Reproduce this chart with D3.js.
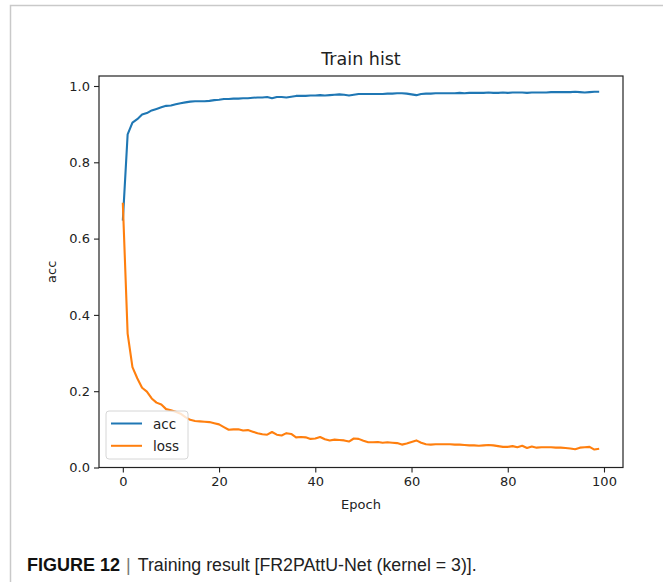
<!DOCTYPE html>
<html>
<head>
<meta charset="utf-8">
<script src="https://cdn.jsdelivr.net/npm/d3@7"></script>
<style>
  html, body { margin: 0; padding: 0; background: #fff; }
  svg { display: block; }
</style>
</head>
<body>
<svg id="chart" width="663" height="582"></svg>
<script>
const title = "Train hist";
const xLabel = "Epoch";
const yLabel = "acc";
const seriesNames = ["acc", "loss"];
const seriesColors = ["#1f77b4", "#ff7f0e"];
const xTicks = [0, 20, 40, 60, 80, 100];
const yTicks = [0.0, 0.2, 0.4, 0.6, 0.8, 1.0];
const captionBold = "FIGURE 12";
const captionText = "Training result [FR2PAttU-Net (kernel = 3)].";

const acc = [
  0.647, 0.873, 0.904, 0.913, 0.925, 0.929, 0.936, 0.940, 0.944, 0.948,
  0.949, 0.952, 0.955, 0.957, 0.959, 0.960, 0.960, 0.960, 0.961, 0.963,
  0.964, 0.966, 0.966, 0.967, 0.967, 0.968, 0.968, 0.969, 0.970, 0.970,
  0.971, 0.968, 0.971, 0.971, 0.970, 0.972, 0.974, 0.974, 0.974, 0.975,
  0.975, 0.976, 0.975, 0.976, 0.977, 0.978, 0.977, 0.975, 0.977, 0.979,
  0.979, 0.979, 0.979, 0.979, 0.979, 0.980, 0.980, 0.981, 0.981, 0.980,
  0.978, 0.976, 0.979, 0.980, 0.980, 0.981, 0.981, 0.981, 0.981, 0.981,
  0.982, 0.981, 0.982, 0.982, 0.982, 0.982, 0.983, 0.982, 0.982, 0.983,
  0.982, 0.983, 0.983, 0.983, 0.982, 0.983, 0.983, 0.983, 0.983, 0.984,
  0.984, 0.984, 0.984, 0.984, 0.985, 0.984, 0.983, 0.984, 0.985, 0.985
];
const loss = [
  0.694, 0.351, 0.263, 0.234, 0.209, 0.199, 0.181, 0.170, 0.165, 0.153,
  0.150, 0.146, 0.141, 0.132, 0.125, 0.122, 0.121, 0.120, 0.119, 0.116,
  0.113, 0.106, 0.099, 0.100, 0.100, 0.097, 0.098, 0.094, 0.090, 0.087,
  0.086, 0.093, 0.086, 0.084, 0.090, 0.088, 0.079, 0.080, 0.079, 0.075,
  0.076, 0.080, 0.074, 0.071, 0.073, 0.072, 0.071, 0.068, 0.076, 0.075,
  0.070, 0.066, 0.066, 0.067, 0.065, 0.066, 0.065, 0.064, 0.060, 0.063,
  0.067, 0.071, 0.065, 0.061, 0.060, 0.061, 0.061, 0.061, 0.061, 0.060,
  0.060, 0.059, 0.058, 0.058, 0.057, 0.058, 0.059, 0.058, 0.056, 0.054,
  0.054, 0.056, 0.053, 0.057, 0.051, 0.055, 0.052, 0.053, 0.053, 0.053,
  0.052, 0.052, 0.051, 0.050, 0.048, 0.052, 0.053, 0.054, 0.047, 0.049
];
const epochs = d3.range(acc.length);

const svg = d3.select("#chart");
const font = "'DejaVu Sans', sans-serif";

// outer frame of the figure panel
svg.append("rect")
  .attr("x", 10.5).attr("y", 5.5)
  .attr("width", 700).attr("height", 700)
  .attr("fill", "none").attr("stroke", "#c9c9c9").attr("stroke-width", 1.5);

const plot = { left: 99, right: 623, top: 76, bottom: 467.5 };

const x = d3.scaleLinear().domain([-4.95, 103.95]).range([plot.left, plot.right]);
const y = d3.scaleLinear().domain([0, 1.0262]).range([plot.bottom, plot.top]);

// lines
const line = d3.line().x((d, i) => x(epochs[i])).y(d => y(d));
const g = svg.append("g");
g.append("path").datum(acc).attr("d", line)
  .attr("fill", "none").attr("stroke", seriesColors[0]).attr("stroke-width", 2.1)
  .attr("stroke-linejoin", "round");
g.append("path").datum(loss).attr("d", line)
  .attr("fill", "none").attr("stroke", seriesColors[1]).attr("stroke-width", 2.1)
  .attr("stroke-linejoin", "round");

// axes box
svg.append("rect")
  .attr("x", plot.left).attr("y", plot.top)
  .attr("width", plot.right - plot.left).attr("height", plot.bottom - plot.top)
  .attr("fill", "none").attr("stroke", "#222").attr("stroke-width", 1.2);

// axes
const xAxis = d3.axisBottom(x).tickValues(xTicks).tickFormat(d3.format("d"))
  .tickSize(5).tickPadding(4);
const yAxis = d3.axisLeft(y).tickValues(yTicks).tickFormat(d3.format(".1f"))
  .tickSize(5).tickPadding(4);

const gx = svg.append("g").attr("transform", `translate(0,${plot.bottom})`).call(xAxis);
const gy = svg.append("g").attr("transform", `translate(${plot.left},0)`).call(yAxis);
[gx, gy].forEach(a => {
  a.select(".domain").remove();
  a.selectAll("line").attr("stroke", "#222").attr("stroke-width", 1.1);
  a.selectAll("text").attr("fill", "#222").style("font-family", font).style("font-size", "13px");
});

// title and axis labels
svg.append("text")
  .attr("x", (plot.left + plot.right) / 2).attr("y", 65)
  .attr("text-anchor", "middle")
  .style("font-family", font).style("font-size", "17.5px").attr("fill", "#222")
  .text(title);
svg.append("text")
  .attr("x", (plot.left + plot.right) / 2).attr("y", 509)
  .attr("text-anchor", "middle")
  .style("font-family", font).style("font-size", "13px").attr("fill", "#222")
  .text(xLabel);
svg.append("text")
  .attr("transform", `translate(56,${(plot.top + plot.bottom) / 2}) rotate(-90)`)
  .attr("text-anchor", "middle")
  .style("font-family", font).style("font-size", "13px").attr("fill", "#222")
  .text(yLabel);

// legend
const lg = svg.append("g");
lg.append("rect")
  .attr("x", 106).attr("y", 411).attr("width", 82).attr("height", 48)
  .attr("rx", 3).attr("fill", "#fff").attr("fill-opacity", 0.8)
  .attr("stroke", "#d6d6d6").attr("stroke-width", 1);
seriesNames.forEach((name, i) => {
  const yy = 423.5 + i * 22.3;
  lg.append("line").attr("x1", 111).attr("x2", 142).attr("y1", yy).attr("y2", yy)
    .attr("stroke", seriesColors[i]).attr("stroke-width", 2);
  lg.append("text").attr("x", 153).attr("y", yy + 5)
    .style("font-family", font).style("font-size", "13.5px").attr("fill", "#222")
    .text(name);
});

// caption
const cap = svg.append("text").attr("x", 27).attr("y", 571)
  .style("font-family", "'Liberation Sans', Arial, sans-serif").style("font-size", "18px");
cap.append("tspan").style("font-weight", "bold").attr("fill", "#111").text(captionBold);
cap.append("tspan").attr("fill", "#777").attr("dx", 6).text("|");
cap.append("tspan").attr("fill", "#222").attr("dx", 7).attr("textLength", 339)
  .attr("lengthAdjust", "spacingAndGlyphs").text(captionText);
</script>
</body>
</html>
